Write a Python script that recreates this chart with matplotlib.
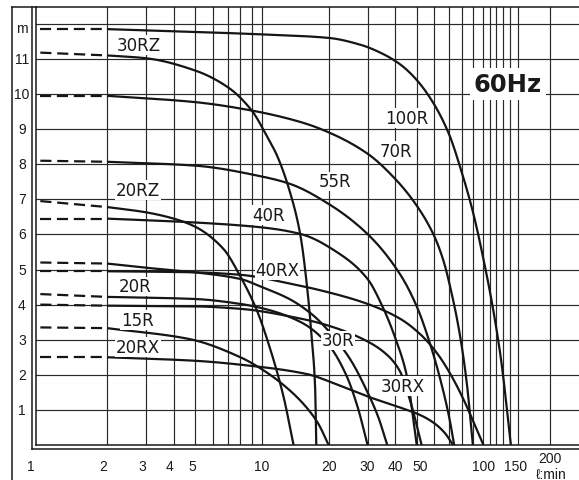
import numpy as np
import matplotlib
matplotlib.use('Agg')
import matplotlib.pyplot as plt
from matplotlib.lines import Line2D
from matplotlib.transforms import ScaledTranslation

# ---------------- data (flow l/min, head m) ----------------
q_100R = [1, 2, 5, 10, 20, 28, 35, 42, 50, 60, 70, 80, 90, 100, 110, 120, 133]
h_100R = [11.85, 11.85, 11.77, 11.7, 11.6, 11.4, 11.15, 10.85, 10.4, 9.7, 8.85, 7.75, 6.6, 5.3, 3.95, 2.45, 0]
q_30RZ = [1, 2, 3, 5, 7, 9, 10.7, 11.7, 13.4, 14.9, 16, 16.8, 17.4, 17.6]
h_30RZ = [11.18, 11.1, 11.02, 10.67, 10.2, 9.53, 8.72, 8.25, 7.2, 6.0, 4.5, 3.02, 1.6, 0]
q_70R = [1, 2, 5, 9, 15, 20, 30, 40, 50, 60, 66, 72, 78, 84, 89.6]
h_70R = [9.95, 9.95, 9.77, 9.53, 9.2, 8.91, 8.3, 7.58, 6.82, 5.95, 5.25, 4.3, 3.2, 1.8, 0]
q_55R = [1, 2, 5, 10, 13.4, 20, 30, 42, 50, 57, 64, 70, 73.8]
h_55R = [8.1, 8.07, 7.96, 7.65, 7.44, 6.87, 6.01, 4.87, 3.95, 2.95, 1.85, 0.8, 0]
q_20RZ = [1, 2, 3, 4, 5, 6.7, 8, 9.5, 10.9, 12.5, 13.9]
h_20RZ = [6.95, 6.78, 6.63, 6.45, 6.22, 5.59, 4.8, 3.83, 2.74, 1.4, 0]
q_40R = [1, 2, 5, 10, 15, 22.5, 30, 35, 40, 45, 50]
h_40R = [6.45, 6.45, 6.34, 6.2, 6.01, 5.44, 4.73, 3.95, 3.05, 2.0, 0]
q_30R = [1, 2, 3, 5, 8, 10, 13.4, 17, 20, 25, 30, 33.5, 36.8]
h_30R = [5.2, 5.17, 5.05, 4.92, 4.73, 4.5, 4.15, 3.7, 3.25, 2.45, 1.5, 0.8, 0]
q_40RX = [1, 2, 5, 8, 13.4, 20, 30, 42, 52, 62, 72, 82, 91, 100]
h_40RX = [4.95, 4.95, 4.92, 4.85, 4.6, 4.35, 4.02, 3.6, 3.15, 2.6, 1.95, 1.25, 0.6, 0]
q_20R = [1, 2, 5, 8, 10, 15, 20, 24, 27, 30]
h_20R = [4.3, 4.22, 4.16, 4.02, 3.9, 3.5, 2.85, 2.0, 1.1, 0]
q_30RX = [1, 2, 5, 8, 15, 20, 30, 37, 42, 47, 52.6]
h_30RX = [4.0, 3.97, 3.95, 3.88, 3.6, 3.4, 2.95, 2.55, 2.1, 1.2, 0]
q_15R = [1, 2, 4.7, 8, 10.5, 13.4, 16, 18, 20]
h_15R = [3.35, 3.33, 3.02, 2.5, 2.07, 1.55, 1.05, 0.6, 0]
q_20RX = [1, 2, 5, 8.8, 16, 22.5, 30.7, 42, 52, 60, 67, 72.9]
h_20RX = [2.5, 2.5, 2.4, 2.26, 2.02, 1.69, 1.36, 1.07, 0.85, 0.62, 0.34, 0]

curves = [(q_100R, h_100R), (q_30RZ, h_30RZ), (q_70R, h_70R), (q_55R, h_55R),
          (q_20RZ, h_20RZ), (q_40R, h_40R), (q_30R, h_30R), (q_40RX, h_40RX),
          (q_20R, h_20R), (q_30RX, h_30RX), (q_15R, h_15R), (q_20RX, h_20RX)]

label_names = ['100R', '30RZ', '70R', '55R', '20RZ', '40R', '40RX', '20R', '15R', '20RX', '30R', '30RX']
label_q = [45.2, 2.79, 40.3, 21.4, 2.75, 10.67, 11.77, 2.69, 2.75, 2.76, 22.0, 43.2]
label_h = [9.32, 11.4, 8.38, 7.51, 7.27, 6.56, 4.99, 4.52, 3.56, 2.79, 2.98, 1.68]

y_ticks = [1, 2, 3, 4, 5, 6, 7, 8, 9, 10, 11]
x_tick_pos = [1, 2, 3, 4, 5, 10, 20, 30, 40, 50, 100, 143]
x_tick_lab = ['1', '2', '3', '4', '5', '10', '20', '30', '40', '50', '100', '150']
x_grid = [2, 3, 4, 5, 6, 7, 8, 9, 10, 20, 30, 40, 50, 60, 70, 80, 90, 100,
          107, 114, 122, 132, 143, 200]
y_grid = [1, 2, 3, 4, 5, 6, 7, 8, 9, 10, 11, 12]

# ---------------- figure ----------------
W, H = 579, 481
fig = plt.figure(figsize=(W / 100, H / 100), dpi=100)
fig.patch.set_facecolor('white')
L, R, T, B = 36, 579, 8, 446
ax = fig.add_axes([L / W, 1 - B / H, (R - L) / W, (B - T) / H])
ax.set_xscale('log')
ax.set_xlim(0.956, 270)
ax.set_ylim(0, 12.48)
ax.set_xticks([])
ax.set_yticks([])
ax.minorticks_off()
ax.tick_params(which='both', length=0, labelbottom=False, labelleft=False)
ax.spines['right'].set_visible(False)
for s in ['left', 'top', 'bottom']:
    ax.spines[s].set_linewidth(1.1)
    ax.spines[s].set_color('#1a1a1a')

gc = '#2a2a2a'
for xv in x_grid:
    ax.axvline(xv, color=gc, lw=0.85, zorder=1)
for yv in y_grid:
    ax.axhline(yv, color=gc, lw=0.85, zorder=1)


def pchip(q, h, n=400):
    # monotone cubic (Fritsch-Carlson) through the read points, in log(q)
    x = np.log10(np.asarray(q, float))
    y = np.asarray(h, float)
    dx = np.diff(x)
    d = np.diff(y) / dx
    m = np.zeros_like(y)
    m[0], m[-1] = d[0], d[-1]
    for i in range(1, len(y) - 1):
        if d[i - 1] * d[i] <= 0:
            m[i] = 0
        else:
            w1 = 2 * dx[i] + dx[i - 1]
            w2 = dx[i] + 2 * dx[i - 1]
            m[i] = (w1 + w2) / (w1 / d[i - 1] + w2 / d[i])
    xs = np.linspace(x[0], x[-1], n)
    k = np.clip(np.searchsorted(x, xs) - 1, 0, len(x) - 2)
    hk = x[k + 1] - x[k]
    t = (xs - x[k]) / hk
    h00 = 2 * t**3 - 3 * t**2 + 1
    h10 = t**3 - 2 * t**2 + t
    h01 = -2 * t**3 + 3 * t**2
    h11 = t**3 - t**2
    ys = h00 * y[k] + h10 * hk * m[k] + h01 * y[k + 1] + h11 * hk * m[k + 1]
    return 10 ** xs, ys


lc = '#151515'
for q, h in curves:
    q = np.asarray(q, float)
    h = np.asarray(h, float)
    dm = q <= 2
    ax.plot(q[dm], h[dm], color=lc, lw=1.6, ls=(0, (5, 2.6)), zorder=3,
            dash_capstyle='butt')
    sm = q >= 2
    sq, sh = pchip(q[sm], h[sm])
    ax.plot(sq, sh, color=lc, lw=1.6, zorder=3, solid_capstyle='butt')

# curve labels
for name, lq, lh in zip(label_names, label_q, label_h):
    ax.text(lq, lh, name, fontsize=12, family='DejaVu Sans', color='#1a1a1a',
            ha='center', va='center', zorder=6,
            bbox=dict(facecolor='white', edgecolor='none', pad=0.6))

ax.text(129, 10.29, '60Hz', fontsize=17.5, family='DejaVu Sans', weight='bold',
        color='#1a1a1a', ha='center', va='center', zorder=6,
        bbox=dict(facecolor='white', edgecolor='none', pad=3))

# tick labels
tf = dict(fontsize=10, family=['Liberation Sans', 'DejaVu Sans'], color='#1a1a1a')
ytr = ax.get_yaxis_transform()
for yv in y_ticks:
    ax.text(-0.026, yv, str(yv), ha='center', va='center', transform=ytr,
            clip_on=False, **tf)
ax.text(-0.026, 11.88, 'm', ha='center', va='center', transform=ytr, clip_on=False, **tf)

xtr = ax.get_xaxis_transform()
shift = {'1': -10, '2': -3.5, '3': -3.5, '4': -4, '5': -3, '50': 3, '150': -2}
for xv, lab in zip(x_tick_pos, x_tick_lab):
    tr = xtr + ScaledTranslation(shift.get(lab, 0) / 100, 0, fig.dpi_scale_trans)
    ax.text(xv, -0.048, lab, ha='center', va='center', transform=tr,
            clip_on=False, **tf)
ax.text(200, -0.03, '200', ha='center', va='center', transform=xtr, clip_on=False, **tf)
ax.text(203, -0.066, 'ℓ:min', ha='center', va='center', transform=xtr, clip_on=False, **tf)


# outer frame lines (figure pixel coordinates)
def fline(x1, y1, x2, y2, lw=1.1):
    fig.add_artist(Line2D([x1 / W, x2 / W], [1 - y1 / H, 1 - y2 / H],
                          transform=fig.transFigure, color='#1a1a1a', lw=lw))


fline(12, 8, 12, 481)
fline(12, 8, 36, 8)
fline(32, 8, 32, 450)
fline(32, 450, 579, 450)

fig.savefig('out.png', dpi=100)
